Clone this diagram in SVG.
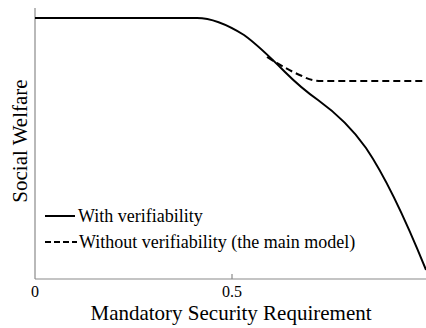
<svg xmlns="http://www.w3.org/2000/svg" width="426" height="328" viewBox="0 0 426 328">
<style>
.ax{stroke:#8a8a8a;stroke-width:1.2;fill:none}
.cv{stroke:#000;stroke-width:2;fill:none}
.ds{stroke-dasharray:7,4}
text{font-family:"Liberation Serif","Times New Roman",serif;fill:#000}
</style>
<rect width="426" height="328" fill="#fff"/>
<g id="axes">
<line class="ax" x1="35" y1="8" x2="35" y2="279"/>
<line class="ax" x1="35" y1="279" x2="426" y2="279"/>
<line class="ax" x1="232" y1="274" x2="232" y2="279"/>
<text x="35" y="297" font-size="16" text-anchor="middle">0</text>
<text x="232" y="297" font-size="16" text-anchor="middle">0.5</text>
<text x="231" y="320" font-size="21" text-anchor="middle">Mandatory Security Requirement</text>
<text transform="translate(27,141) rotate(-90)" font-size="21" text-anchor="middle">Social Welfare</text>
</g>
<g id="connectors">
<path id="with" class="cv" d="M35,18 L197,18 C212,18 228,25 244,35 C258,45 270,57 285,72 C298,85 308,93 318,100 C336,113 352,128 366,148 C385,176 405,218 426,270"/>
<path id="without" class="cv ds" d="M267,57 C280,65 292,72 302,76 C310,80 314,81 322,81 L426,81"/>
</g>
<g id="legend">
<line class="cv" x1="45" y1="216" x2="75" y2="216"/>
<line class="cv" x1="45" y1="242" x2="77" y2="242" stroke-dasharray="6,3"/>
<text x="78" y="222" font-size="18">With verifiability</text>
<text x="79" y="248" font-size="18">Without verifiability (the main model)</text>
</g>
</svg>
